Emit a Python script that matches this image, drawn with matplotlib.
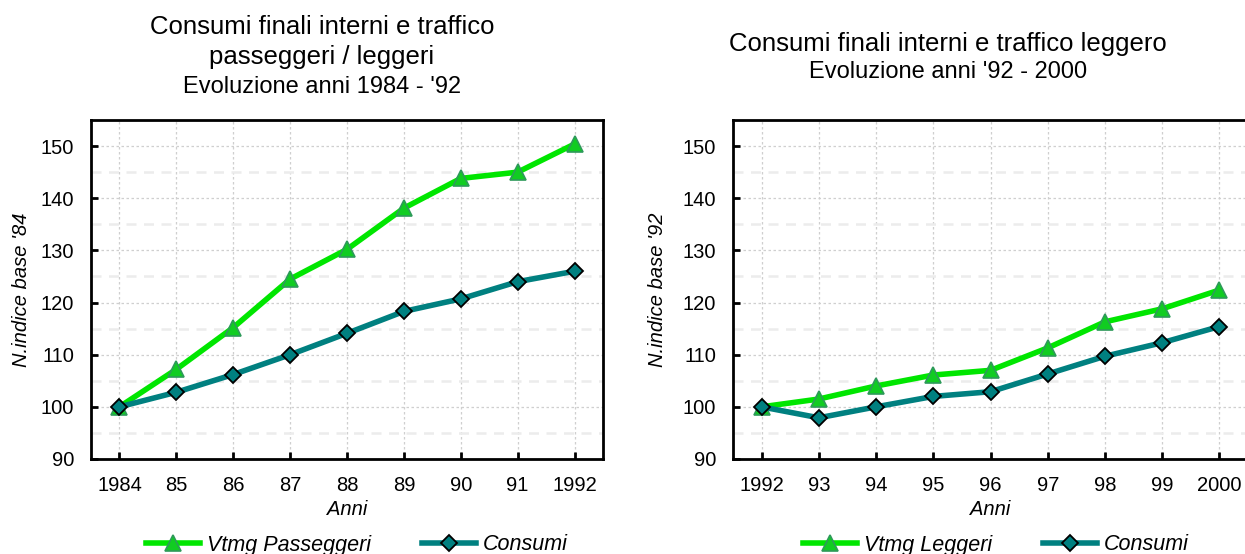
import matplotlib.pyplot as plt
from matplotlib.ticker import MultipleLocator

plt.rcParams['font.family'] = ['Liberation Sans', 'DejaVu Sans']

# 1984 - 1992, base 1984 = 100
anni_a = ['1984', '85', '86', '87', '88', '89', '90', '91', '1992']
vtmg_passeggeri = [100, 107.2, 115.2, 124.5, 130.2, 138.1, 143.8, 145.0, 150.4]
consumi_a = [100, 102.8, 106.2, 110.0, 114.1, 118.3, 120.7, 124.0, 126.0]

# 1992 - 2000, base 1992 = 100
anni_b = ['1992', '93', '94', '95', '96', '97', '98', '99', '2000']
vtmg_leggeri = [100, 101.5, 104.0, 106.1, 107.0, 111.3, 116.3, 118.8, 122.4]
consumi_b = [100, 97.9, 100.0, 102.0, 102.9, 106.3, 109.7, 112.3, 115.4]

GREEN = '#00e600'
GREEN_EDGE = '#2e9a5a'
TEAL = '#008080'
FS = 14.5

W, H = 1245, 554
fig = plt.figure(figsize=(W / 100, H / 100), dpi=100)
ax1 = fig.add_axes([91 / W, 1 - 459 / H, 512 / W, 339 / H])
ax2 = fig.add_axes([733 / W, 1 - 459 / H, 515 / W, 339 / H])


def draw_panel(ax, labels, vtmg, consumi, vtmg_name, ylabel, ylab_x):
    x = range(len(labels))
    ax.plot(x, vtmg, color=GREEN, lw=4, marker='^', ms=12,
            mfc='#11cc22', mec=GREEN_EDGE, mew=1.2, label=vtmg_name, zorder=3)
    ax.plot(x, consumi, color=TEAL, lw=4, marker='D', ms=8.5,
            mfc=TEAL, mec='black', mew=1.3, label='Consumi', zorder=4)
    ax.set_xlim(-0.5, len(labels) - 0.5)
    ax.set_ylim(90, 155)
    ax.set_xticks(list(x))
    ax.set_xticklabels(labels)
    ax.yaxis.set_minor_locator(MultipleLocator(5))
    ax.set_yticks([90, 100, 110, 120, 130, 140, 150])
    ax.tick_params(axis='both', which='major', direction='in', length=5,
                   width=2, labelsize=FS, colors='black')
    ax.tick_params(axis='x', pad=12.5)
    ax.tick_params(axis='y', pad=12)
    ax.tick_params(axis='y', which='minor', length=0)
    ax.grid(True, which='major', color='#cfcfcf', ls=(0, (2, 2)), lw=0.9)
    ax.grid(True, which='minor', axis='y', color='#ececec', ls=(0, (4, 3)), lw=1.8)
    ax.set_axisbelow(True)
    for s in ax.spines.values():
        s.set_linewidth(2)
    ax.set_xlabel('Anni', fontsize=FS, style='italic', labelpad=3)
    ax.set_ylabel(ylabel, fontsize=FS, style='italic')
    # anchor is the right edge of the rotated label
    ax.yaxis.set_label_coords(ylab_x, 0.5)


draw_panel(ax1, anni_a, vtmg_passeggeri, consumi_a, 'Vtmg Passeggeri',
           "N.indice base '84", (31 - 91) / 512)
draw_panel(ax2, anni_b, vtmg_leggeri, consumi_b, 'Vtmg Leggeri',
           "N.indice base '92", (667 - 733) / 515)

# titles
fig.text(322 / W, 1 - 27 / H, 'Consumi finali interni e traffico',
         ha='center', va='center', fontsize=18.5)
fig.text(322 / W, 1 - 57 / H, 'passeggeri / leggeri',
         ha='center', va='center', fontsize=18.5)
fig.text(322 / W, 1 - 87 / H, "Evoluzione anni 1984 - '92",
         ha='center', va='center', fontsize=17)
fig.text(948 / W, 1 - 44 / H, 'Consumi finali interni e traffico leggero',
         ha='center', va='center', fontsize=18.5)
fig.text(948 / W, 1 - 72 / H, "Evoluzione anni '92 - 2000",
         ha='center', va='center', fontsize=17)

# legends below each panel
for ax, cx in ((ax1, 357 / W), (ax2, 996 / W)):
    leg = fig.legend(handles=ax.get_lines(), loc='center',
                     bbox_to_anchor=(cx, 1 - 545 / H), ncol=2, frameon=False,
                     fontsize=15.5, handlelength=2.5, columnspacing=2.4,
                     handletextpad=0.3, borderpad=0)
    for t in leg.get_texts():
        t.set_style('italic')

fig.savefig('out.png', dpi=100)
